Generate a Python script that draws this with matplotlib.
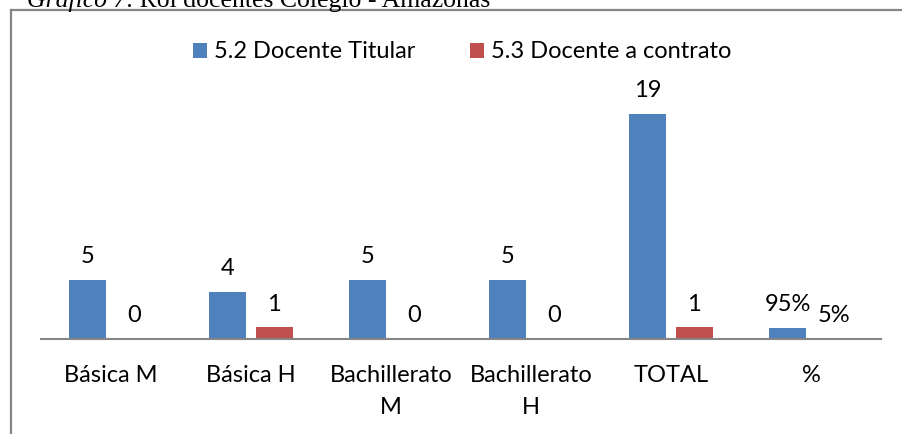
import numpy as np
import matplotlib.pyplot as plt
from matplotlib.lines import Line2D

categories = ["Básica M", "Básica H", "Bachillerato\nM", "Bachillerato\nH", "TOTAL", "%"]
titular = [5, 4, 5, 5, 19, 0.95]
contrato = [0, 1, 0, 0, 1, 0.05]
titular_labels = ["5", "4", "5", "5", "19", "95%"]
contrato_labels = ["0", "1", "0", "0", "1", "5%"]

blue = "#4F81BD"
red = "#C0504D"
W, H = 903, 434
fs = 17

plt.rcParams["font.family"] = ["Lato", "DejaVu Sans"]

fig = plt.figure(figsize=(W / 100, H / 100), dpi=100)
ax = fig.add_axes([41 / W, 1 - 339 / H, 840 / W, (339 - 102) / H])

x = np.arange(len(categories))
bw = 0.268
off = 0.167
b1 = ax.bar(x - off, titular, bw, color=blue, label="5.2 Docente Titular")
b2 = ax.bar(x + off, contrato, bw, color=red, label="5.3 Docente a contrato")

for bars, labels in [(b1, titular_labels), (b2, contrato_labels)]:
    for rect, lab in zip(bars, labels):
        ax.annotate(lab, (rect.get_x() + rect.get_width() / 2, rect.get_height()),
                    xytext=(0, 9), textcoords="offset points", ha="center", va="bottom",
                    fontsize=fs)

ax.set_xlim(-0.5, len(categories) - 0.5)
ax.set_ylim(0, 20)
ax.set_xticks(x)
ax.set_xticklabels(categories, fontsize=fs, linespacing=1.6, va="top")
ax.tick_params(axis="x", length=0, pad=19)
ax.set_yticks([])
for s in ["top", "right", "left"]:
    ax.spines[s].set_visible(False)
ax.spines["bottom"].set_color("#868686")
ax.spines["bottom"].set_linewidth(1.5)

fig.legend(loc="center", bbox_to_anchor=(462 / W, 1 - 52 / H), ncol=2, frameon=False,
           fontsize=fs, handlelength=0.6, handleheight=0.6, handletextpad=0.3,
           columnspacing=2.3)

# chart frame (runs off the right and bottom edges)
fig.add_artist(Line2D([11 / W, 11 / W], [0, 1 - 10 / H], color="#868686", lw=1.6))
fig.add_artist(Line2D([11 / W, 1], [1 - 10 / H, 1 - 10 / H], color="#868686", lw=1.6))

t1 = fig.text(27 / W, 1 - 7 / H, "Gráfico 7", family="Liberation Serif", style="italic",
              fontsize=18.5, va="baseline", ha="left")
fig.canvas.draw()
x1 = t1.get_window_extent().x1
fig.text(x1 / W, 1 - 7 / H, ": Rol docentes Colegio - Amazonas", family="Liberation Serif",
         fontsize=18.5, va="baseline", ha="left")

fig.savefig("out.png", dpi=100)
